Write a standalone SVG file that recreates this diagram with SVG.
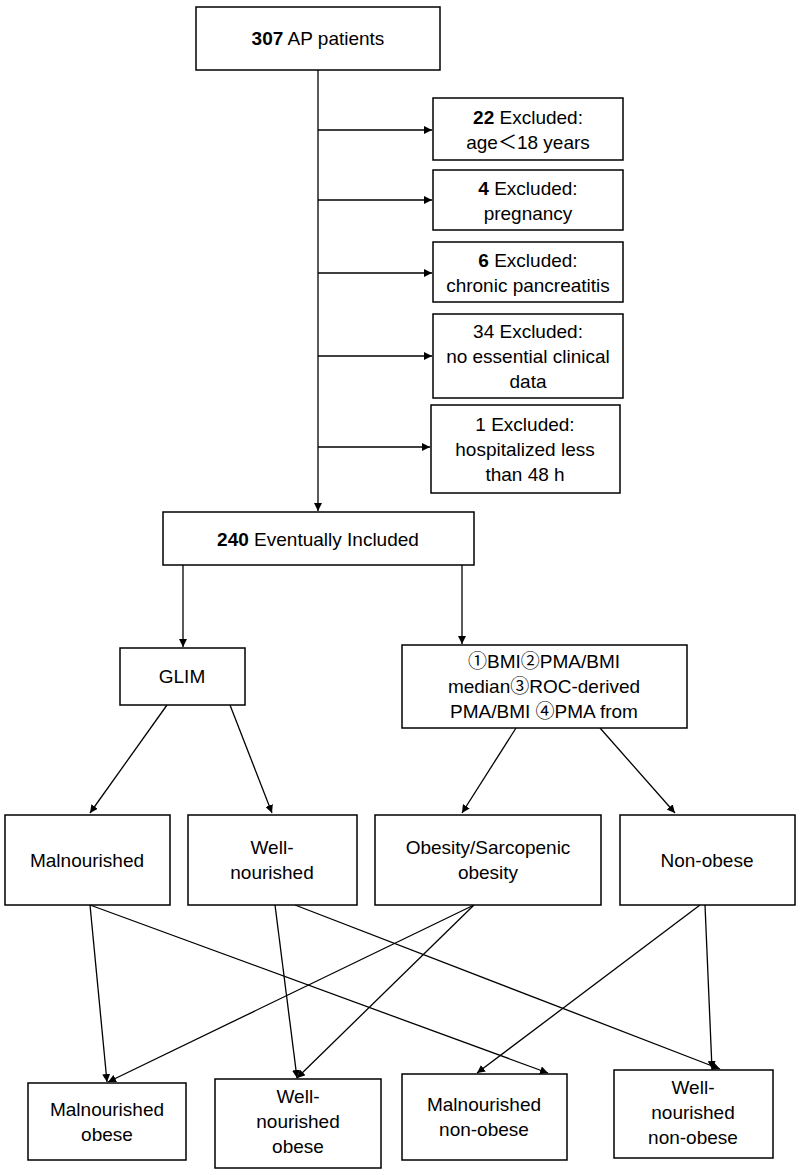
<svg xmlns="http://www.w3.org/2000/svg" width="800" height="1175" viewBox="0 0 800 1175">
<style>
rect{fill:#fff;stroke:#000;stroke-width:1.5}
text{font-family:"Liberation Sans","Noto Sans CJK SC",sans-serif;font-size:19px;text-anchor:middle;fill:#000}
.c line{stroke:#000;stroke-width:1.3;marker-end:url(#a)}
</style>
<defs><marker id="a" viewBox="0 0 10 10" refX="10" refY="5" markerWidth="8" markerHeight="8" orient="auto" markerUnits="userSpaceOnUse"><path d="M0,0L10,5L0,10z" fill="#000"/></marker></defs>
<g class="c">
<line x1="318" y1="70" x2="318" y2="511"/>
<line x1="318" y1="130" x2="432" y2="130"/>
<line x1="318" y1="200" x2="432" y2="200"/>
<line x1="318" y1="273" x2="432" y2="273"/>
<line x1="318" y1="356" x2="432" y2="356"/>
<line x1="318" y1="447" x2="430" y2="447"/>
<line x1="183" y1="565" x2="183" y2="647"/>
<line x1="462" y1="565" x2="462" y2="644"/>
<line x1="167" y1="705" x2="90" y2="813"/>
<line x1="230" y1="705" x2="272" y2="813"/>
<line x1="516" y1="728" x2="462" y2="813"/>
<line x1="600" y1="728" x2="675" y2="813"/>
<line x1="90" y1="905" x2="107" y2="1082"/>
<line x1="90" y1="905" x2="548" y2="1073"/>
<line x1="275" y1="905" x2="297" y2="1078"/>
<line x1="295" y1="905" x2="720" y2="1069"/>
<line x1="474" y1="905" x2="108" y2="1082"/>
<line x1="474" y1="905" x2="297" y2="1078"/>
<line x1="705" y1="905" x2="712" y2="1069"/>
<line x1="700" y1="905" x2="477" y2="1073"/>
</g>
<g id="n0"><rect x="196" y="7" width="244" height="63"/><text x="318" y="45"><tspan font-weight="bold">307</tspan> AP patients</text></g>
<g id="n1"><rect x="433" y="98" width="190" height="62"/><text x="528" y="124"><tspan font-weight="bold">22</tspan> Excluded:</text><text x="528" y="149">age＜18 years</text></g>
<g id="n2"><rect x="433" y="170" width="190" height="60"/><text x="528" y="195"><tspan font-weight="bold">4</tspan> Excluded:</text><text x="528" y="220">pregnancy</text></g>
<g id="n3"><rect x="433" y="242" width="190" height="60"/><text x="528" y="267"><tspan font-weight="bold">6</tspan> Excluded:</text><text x="528" y="292">chronic pancreatitis</text></g>
<g id="n4"><rect x="433" y="314" width="190" height="84"/><text x="528" y="338">34 Excluded:</text><text x="528" y="363">no essential clinical</text><text x="528" y="388">data</text></g>
<g id="n5"><rect x="431" y="405" width="189" height="88"/><text x="525" y="431">1 Excluded:</text><text x="525" y="456">hospitalized less</text><text x="525" y="481">than 48 h</text></g>
<g id="n6"><rect x="163" y="512" width="311" height="53"/><text x="318" y="546"><tspan font-weight="bold">240</tspan> Eventually Included</text></g>
<g id="n7"><rect x="120" y="648" width="125" height="57"/><text x="182" y="683">GLIM</text></g>
<g id="n8"><rect x="402" y="645" width="285" height="83"/><text x="544" y="668">①BMI②PMA/BMI</text><text x="544" y="693">median③ROC-derived</text><text x="544" y="718">PMA/BMI ④PMA from</text><text x="544" y="743" visibility="hidden"></text></g>
<g id="n9"><rect x="5" y="815" width="165" height="90"/><text x="87" y="867">Malnourished</text></g>
<g id="n10"><rect x="188" y="815" width="169" height="90"/><text x="272" y="854">Well-</text><text x="272" y="879">nourished</text></g>
<g id="n11"><rect x="375" y="815" width="226" height="90"/><text x="488" y="854">Obesity/Sarcopenic</text><text x="488" y="879">obesity</text></g>
<g id="n12"><rect x="620" y="815" width="175" height="90"/><text x="707" y="867">Non-obese</text></g>
<g id="n13"><rect x="28" y="1083" width="158" height="77"/><text x="107" y="1116">Malnourished</text><text x="107" y="1141">obese</text></g>
<g id="n14"><rect x="215" y="1079" width="166" height="89"/><text x="298" y="1103">Well-</text><text x="298" y="1128">nourished</text><text x="298" y="1153">obese</text></g>
<g id="n15"><rect x="402" y="1074" width="165" height="86"/><text x="484" y="1111">Malnourished</text><text x="484" y="1136">non-obese</text></g>
<g id="n16"><rect x="614" y="1070" width="159" height="88"/><text x="693" y="1094">Well-</text><text x="693" y="1119">nourished</text><text x="693" y="1144">non-obese</text></g>
</svg>
